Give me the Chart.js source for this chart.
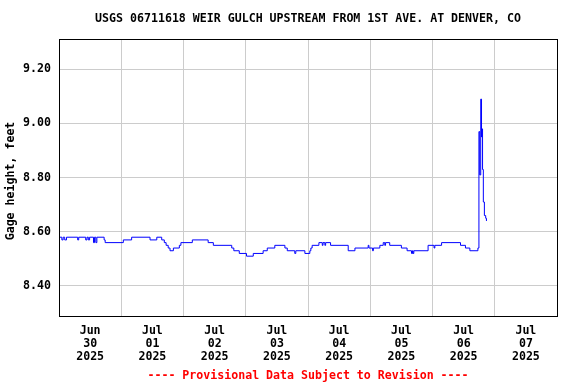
<!DOCTYPE html>
<html>
<head>
<meta charset="utf-8">
<script src="https://cdn.jsdelivr.net/npm/chart.js@4"></script>
<style>
  body { margin: 0; background: #fff; }
</style>
</head>
<body>
<canvas id="chart" width="576" height="384"></canvas>
<script>
// hours since Jun 30 2025 00:00, gage height (ft)
const hours = [0, 1.1, 1.6, 2.2, 2.9, 7.2, 7.6, 10.3, 10.8, 11.3, 11.8, 13.3, 13.7, 14.2, 14.6,
  17.4, 17.8, 24.8, 28.0, 35.1, 37.7, 39.6, 40.6, 41.3, 42.1, 42.8, 44.1, 46.4, 47.0,
  51.4, 57.5, 59.5, 66.6, 67.4, 69.5, 72.3, 74.9, 78.7, 80.3, 83.2, 87.1, 88.0, 90.9, 91.3,
  94.8, 96.7, 97.1, 97.6, 100.2, 101.5, 101.8, 102.5, 102.8, 104.7, 111.5, 114.1, 119.2, 119.5,
  120.9, 121.2, 123.7, 125.0, 125.6, 125.9, 127.5, 132.0, 134.2, 135.9, 136.3, 136.5, 136.8,
  142.3, 144.6, 144.9, 147.5, 154.8, 156.7, 158.4, 161.5, 161.9, 162.2, 162.6, 162.9, 163.0,
  163.3, 163.6, 164.0, 164.5, 164.8];
const gage = [8.58, 8.57, 8.58, 8.57, 8.58, 8.57, 8.58, 8.57, 8.58, 8.57, 8.58, 8.56, 8.58, 8.56, 8.58,
  8.57, 8.56, 8.57, 8.58, 8.57, 8.58, 8.57, 8.56, 8.55, 8.54, 8.53, 8.54, 8.55, 8.56,
  8.57, 8.56, 8.55, 8.54, 8.53, 8.52, 8.51, 8.52, 8.53, 8.54, 8.55, 8.54, 8.53, 8.52, 8.53,
  8.52, 8.53, 8.54, 8.55, 8.56, 8.55, 8.56, 8.55, 8.56, 8.55, 8.53, 8.54, 8.55, 8.54,
  8.53, 8.54, 8.55, 8.56, 8.55, 8.56, 8.55, 8.54, 8.53, 8.52, 8.53, 8.52, 8.53,
  8.55, 8.54, 8.55, 8.56, 8.55, 8.54, 8.53, 8.54, 8.97, 8.81, 9.09, 8.95, 8.98,
  8.83, 8.71, 8.66, 8.65, 8.64];
const dayLabels = [['Jun', '30', '2025'], ['Jul', '01', '2025'], ['Jul', '02', '2025'], ['Jul', '03', '2025'],
  ['Jul', '04', '2025'], ['Jul', '05', '2025'], ['Jul', '06', '2025'], ['Jul', '07', '2025']];
const yTicks = [8.40, 8.60, 8.80, 9.00, 9.20];
const titleText = 'USGS 06711618 WEIR GULCH UPSTREAM FROM 1ST AVE. AT DENVER, CO';
const footText = '---- Provisional Data Subject to Revision ----';

const mono = 'DejaVu Sans Mono';
const font = { family: mono, size: 11.6, weight: 'bold', lineHeight: 1.15 };

// frame round the plot, title above and red note below, both centred on the plot
const frame = {
  id: 'frame',
  afterDraw(chart) {
    const a = chart.chartArea;
    const ctx = chart.ctx;
    const cx = (a.left + a.right) / 2;
    ctx.save();
    ctx.strokeStyle = '#000';
    ctx.lineWidth = 1;
    ctx.strokeRect(Math.round(a.left) + 0.5, Math.round(a.top) + 0.5,
      Math.round(a.right - a.left), Math.round(a.bottom - a.top));
    ctx.font = 'bold 11.6px "DejaVu Sans Mono"';
    ctx.textAlign = 'center';
    ctx.textBaseline = 'middle';
    ctx.fillStyle = '#000';
    ctx.fillText(titleText, cx, 19);
    ctx.fillStyle = '#ff0000';
    ctx.fillText(footText, cx, 376);
    ctx.restore();
  }
};

const ctx = document.getElementById('chart').getContext('2d');
new Chart(ctx, {
  type: 'line',
  data: {
    datasets: [{
      data: hours.map((h, i) => ({ x: h, y: gage[i] })),
      borderColor: '#0000ff',
      borderWidth: 1,
      pointRadius: 0,
      stepped: true,
      fill: false
    }]
  },
  options: {
    responsive: false,
    animation: false,
    layout: { padding: { left: 0, right: 19, top: 39, bottom: 0 } },
    plugins: {
      legend: { display: false },
      tooltip: { enabled: false }
    },
    scales: {
      x: {
        type: 'linear',
        min: 0,
        max: 192,
        afterFit: s => { s.height = 68; },
        afterBuildTicks: s => {
          s.ticks = [];
          for (let v = 0; v <= 192; v += 12) s.ticks.push({ value: v });
        },
        border: { display: false },
        grid: {
          drawTicks: false,
          color: c => (c.tick && c.tick.value % 24 === 0) ? '#cccccc' : 'rgba(0,0,0,0)'
        },
        ticks: {
          autoSkip: false,
          maxRotation: 0,
          padding: 8,
          color: '#000',
          font: font,
          callback: v => (v % 24 === 12) ? dayLabels[(v - 12) / 24] : ''
        }
      },
      y: {
        min: 8.289,
        max: 9.312,
        afterFit: s => { s.width = 59; },
        afterBuildTicks: s => { s.ticks = yTicks.map(v => ({ value: v })); },
        border: { display: false },
        grid: { drawTicks: false, color: '#cccccc' },
        ticks: {
          padding: 8,
          color: '#000',
          font: font,
          callback: v => v.toFixed(2)
        },
        title: {
          display: true,
          text: 'Gage height, feet ',
          color: '#000',
          font: { family: mono, size: 11.6, weight: 'bold', lineHeight: 1.2 },
          padding: { top: 4, bottom: 0 }
        }
      }
    }
  },
  plugins: [frame]
});
</script>
</body>
</html>
